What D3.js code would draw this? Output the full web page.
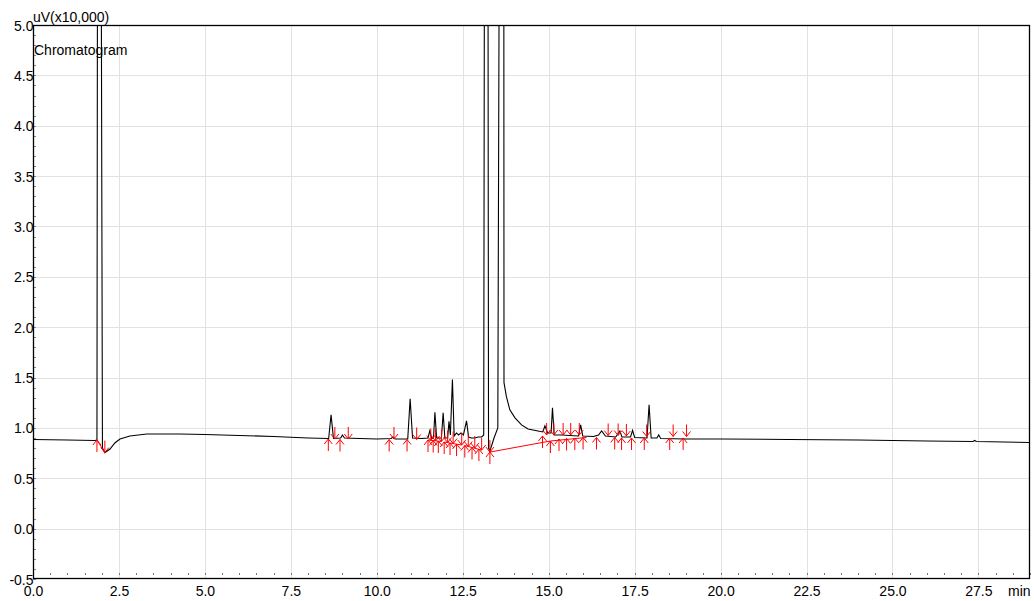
<!DOCTYPE html>
<html>
<head>
<meta charset="utf-8">
<script src="https://cdn.jsdelivr.net/npm/d3@7"></script>
<style>
  body { margin: 0; background: #fff; }
  text { font-family: Arial, "Liberation Sans", sans-serif; fill: #000; }
</style>
</head>
<body>
<div id="plotDiv"></div>
<script>
// --- data (time in min, signal in uV x10,000) ---
const traceTime = [0, 1.0, 1.8, 1.86, 1.875, 1.93, 1.985, 2.02, 2.09, 2.24, 2.38, 2.53, 2.82, 3.31, 4.27, 5.0, 6.0, 7.0, 8.0,
  8.6, 8.67, 8.74, 8.95, 9.0, 9.06, 9.5, 10.0, 10.42, 10.47, 10.53, 10.9, 10.97, 11.04, 11.3, 11.49, 11.54, 11.6, 11.65,
  11.69, 11.74, 11.88, 11.93, 11.98, 12.06, 12.1, 12.14, 12.2, 12.25, 12.32, 12.38, 12.45, 12.52, 12.61, 12.67, 12.75,
  12.85, 12.95, 13.05, 13.11, 13.13, 13.18, 13.235, 13.25, 13.29, 13.41, 13.52, 13.56, 13.63, 13.695, 13.7, 13.77, 13.87,
  14.02, 14.21, 14.4, 14.69, 14.83, 14.89, 14.97, 15.07, 15.11, 15.16, 15.4, 15.6, 15.87, 15.93, 15.99, 16.3, 16.45,
  16.54, 16.65, 16.95, 17.07, 17.13, 17.38, 17.44, 17.5, 17.86, 17.92, 17.98, 18.15, 18.2, 18.26, 19.0, 20.0, 22.0,
  24.0, 26.0, 27.34, 27.39, 27.44, 29.0];
const traceValue = [0.885, 0.88, 0.875, 0.88, 5.6, 30, 5.6, 0.8, 0.755, 0.79, 0.85, 0.89, 0.92, 0.94, 0.94, 0.935, 0.925, 0.915, 0.9,
  0.895, 1.13, 0.895, 0.9, 0.93, 0.9, 0.895, 0.89, 0.895, 0.91, 0.89, 0.89, 1.29, 0.9, 0.895, 0.9, 0.97, 0.895, 0.9,
  1.155, 0.9, 0.9, 1.15, 0.9, 0.9, 1.065, 0.93, 1.48, 0.92, 0.95, 0.93, 0.95, 0.93, 1.07, 0.91, 0.9,
  0.9, 0.91, 0.91, 0.93, 5.6, 30, 5.6, 0.8, 0.77, 0.9, 1.0, 5.6, 30, 5.6, 1.45, 1.31, 1.18,
  1.10, 1.03, 0.99, 0.97, 0.96, 1.02, 0.95, 0.95, 1.2, 0.93, 0.93, 0.925, 0.92, 1.03, 0.92, 0.915, 0.93,
  0.97, 0.92, 0.91, 0.97, 0.91, 0.91, 0.975, 0.905, 0.9, 1.23, 0.9, 0.9, 0.93, 0.895, 0.89, 0.89, 0.885,
  0.88, 0.87, 0.865, 0.875, 0.865, 0.855];

// peak start (u) / end (d) marks
const markTime = [1.86, 2.09, 8.59, 8.78, 8.93, 9.17, 10.36, 10.5, 10.88, 11.16,
  11.49, 11.57, 11.64, 11.71, 11.79, 11.88, 11.96, 12.06, 12.13, 12.22, 12.32, 12.47, 12.56, 12.66, 12.77, 12.85, 12.97, 13.05, 13.29, 13.29,
  14.82, 14.94, 15.05, 15.15, 15.3, 15.42, 15.52, 15.64, 15.76, 15.89, 16.0, 16.39, 16.73, 16.92, 17.02, 17.12, 17.26, 17.41,
  17.78, 17.85, 18.52, 18.62, 18.91, 19.01];
const markValue = [0.88, 0.755, 0.89, 0.89, 0.885, 0.89, 0.885, 0.89, 0.885, 0.885,
  0.88, 0.875, 0.875, 0.87, 0.87, 0.865, 0.86, 0.855, 0.85, 0.845, 0.84, 0.83, 0.825, 0.815, 0.805, 0.8, 0.79, 0.78, 0.76, 0.76,
  0.92, 0.93, 0.87, 0.93, 0.89, 0.93, 0.895, 0.93, 0.9, 0.93, 0.905, 0.905, 0.925, 0.905, 0.925, 0.9, 0.92, 0.9,
  0.9, 0.915, 0.9, 0.915, 0.9, 0.915];
const markDir = ["u", "d", "u", "d", "u", "d", "u", "d", "u", "d",
  "u", "d", "u", "d", "u", "d", "u", "d", "u", "d", "u", "d", "u", "d", "u", "d", "u", "d", "u", "d",
  "u", "d", "u", "d", "u", "d", "u", "d", "u", "d", "u", "u", "d", "u", "d", "u", "d", "u",
  "u", "d", "u", "d", "u", "d"];

// drawn baselines (start t, start v, end t, end v)
const baseT0 = [1.86, 11.49, 11.96, 12.56, 13.29, 15.05];
const baseV0 = [0.88, 0.88, 0.86, 0.825, 0.76, 0.87];
const baseT1 = [2.09, 11.88, 12.47, 13.05, 15.05, 16.1];
const baseV1 = [0.755, 0.865, 0.83, 0.78, 0.87, 0.905];

const xTicks = [0, 2.5, 5, 7.5, 10, 12.5, 15, 17.5, 20, 22.5, 25, 27.5];
const yTicks = [-0.5, 0, 0.5, 1, 1.5, 2, 2.5, 3, 3.5, 4, 4.5, 5];

const W = 1034, H = 601;
const plot = {left: 33, right: 1030, top: 25, bottom: 579};

const svg = d3.select("#plotDiv").append("svg")
  .attr("width", W)
  .attr("height", H);

// --- scales ---
const x = d3.scaleLinear().domain([0, 29]).range([plot.left, plot.right]);
const y = d3.scaleLinear().domain([-0.5, 5]).range([plot.bottom, plot.top]);

svg.append("clipPath").attr("id", "clip")
  .append("rect")
  .attr("x", plot.left).attr("y", plot.top)
  .attr("width", plot.right - plot.left).attr("height", plot.bottom - plot.top);

// --- grid ---
svg.append("g").selectAll("line").data(xTicks.filter(d => d > 0))
  .enter().append("line")
  .attr("x1", d => Math.round(x(d)) + 0.5).attr("x2", d => Math.round(x(d)) + 0.5)
  .attr("y1", plot.top).attr("y2", plot.bottom)
  .attr("stroke", "#e2e2e2");

svg.append("g").selectAll("line").data(yTicks.filter(d => d > -0.5 && d < 5))
  .enter().append("line")
  .attr("y1", d => Math.round(y(d)) + 0.5).attr("y2", d => Math.round(y(d)) + 0.5)
  .attr("x1", plot.left).attr("x2", plot.right)
  .attr("stroke", "#e2e2e2");

// minor ticks
const xMinor = d3.range(0, 29.01, 0.5);
svg.append("g").selectAll("line").data(xMinor)
  .enter().append("line")
  .attr("x1", d => Math.round(x(d)) + 0.5).attr("x2", d => Math.round(x(d)) + 0.5)
  .attr("y1", plot.bottom - 6).attr("y2", plot.bottom - 4)
  .attr("stroke", "#777");

const yMinor = d3.range(-0.5, 5.001, 0.1);
svg.append("g").selectAll("line").data(yMinor)
  .enter().append("line")
  .attr("y1", d => Math.round(y(d)) + 0.5).attr("y2", d => Math.round(y(d)) + 0.5)
  .attr("x1", plot.left).attr("x2", plot.left + 3)
  .attr("stroke", "#888");

// --- trace ---
const line = d3.line()
  .x((d, i) => x(traceTime[i]))
  .y(d => y(d));

svg.append("path")
  .datum(traceValue)
  .attr("clip-path", "url(#clip)")
  .attr("d", line)
  .attr("fill", "none")
  .attr("stroke", "#000")
  .attr("stroke-width", 1.1);

// --- baselines + peak marks ---
const marks = svg.append("g").attr("clip-path", "url(#clip)");

marks.selectAll(".base").data(baseT0)
  .enter().append("line")
  .attr("class", "base")
  .attr("x1", (d, i) => x(baseT0[i])).attr("y1", (d, i) => y(baseV0[i]))
  .attr("x2", (d, i) => x(baseT1[i])).attr("y2", (d, i) => y(baseV1[i]))
  .attr("stroke", "#ff0000");

marks.selectAll(".mark").data(markTime)
  .enter().append("path")
  .attr("class", "mark")
  .attr("d", (d, i) => {
    const px = x(d), py = y(markValue[i]);
    const s = markDir[i] === "u" ? 1 : -1; // shaft goes below for start, above for end
    return `M${px},${py}L${px},${py + s * 12}M${px - 4},${py + s * 5}L${px},${py}L${px + 4},${py + s * 5}`;
  })
  .attr("fill", "none")
  .attr("stroke", "#ff0000")
  .attr("stroke-width", 1);

// --- frame ---
svg.append("rect")
  .attr("x", plot.left + 0.5).attr("y", plot.top + 0.5)
  .attr("width", plot.right - plot.left - 1).attr("height", plot.bottom - plot.top - 1)
  .attr("fill", "none")
  .attr("stroke", "#000")
  .attr("stroke-width", 1.3);

// --- tick labels ---
svg.append("g").selectAll("text").data(yTicks)
  .enter().append("text")
  .attr("x", plot.left + 0.5)
  .attr("y", d => y(d) + 5.5)
  .attr("text-anchor", "end")
  .style("font-size", "14px")
  .text(d => d.toFixed(1));

svg.append("g").selectAll("text").data(xTicks)
  .enter().append("text")
  .attr("x", d => x(d) + 0.5)
  .attr("y", 596)
  .attr("text-anchor", "middle")
  .style("font-size", "14px")
  .text(d => d.toFixed(1));

svg.append("text")
  .attr("x", 1008).attr("y", 596)
  .style("font-size", "14px")
  .text("min");

svg.append("text")
  .attr("x", 33).attr("y", 22)
  .style("font-size", "14px")
  .text("uV(x10,000)");

svg.append("text")
  .attr("x", 34).attr("y", 55)
  .style("font-size", "14px")
  .text("Chromatogram");
</script>
</body>
</html>
